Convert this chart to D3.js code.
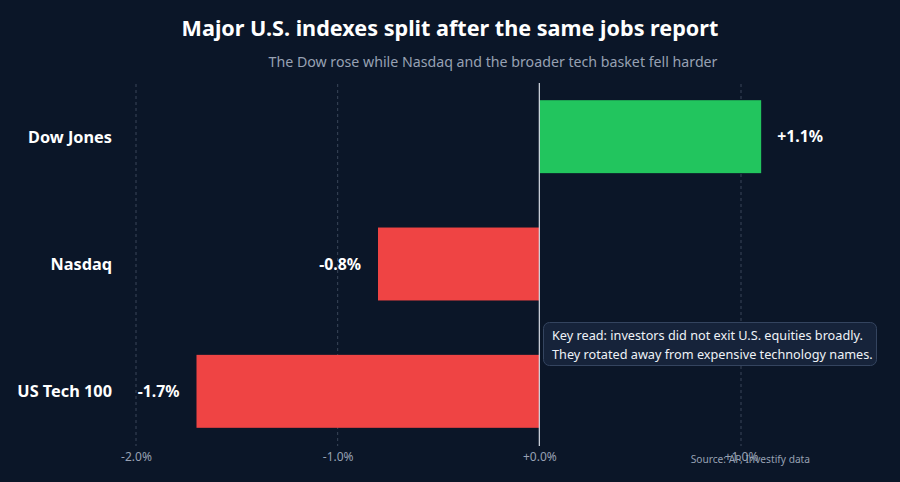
<!DOCTYPE html>
<html><head><meta charset="utf-8">
<script src="https://cdn.jsdelivr.net/npm/d3@7"></script>
<style>
html,body{margin:0;padding:0;background:#0b1628;}
svg{display:block;font-family:"Noto Sans","Open Sans",sans-serif;}
</style></head>
<body><svg id="c" width="900" height="482"></svg>
<script>
const categories = ["Dow Jones", "Nasdaq", "US Tech 100"];
const changes = [1.1, -0.8, -1.7];
const tickValues = [-2, -1, 0, 1];
const tickLabels = ["-2.0%", "-1.0%", "+0.0%", "+1.0%"];
const title = "Major U.S. indexes split after the same jobs report";
const subtitle = "The Dow rose while Nasdaq and the broader tech basket fell harder";
const noteLines = ["Key read: investors did not exit U.S. equities broadly.", "They rotated away from expensive technology names."];
const source = "Source: AP, Investify data";

const svg = d3.select("#c");
svg.append("rect").attr("width",900).attr("height",482).attr("fill","#0b1628");

const x = d3.scaleLinear().domain([-2, 1]).range([136, 741]);
const y = d3.scaleBand().domain(categories).range([73, 455]).paddingInner(0.427).paddingOuter(0.2135);

// title
svg.append("text").attr("x",450).attr("y",36).attr("text-anchor","middle")
  .attr("fill","#ffffff").attr("font-size",21.6).attr("font-weight",700).text(title);
svg.append("text").attr("x",493).attr("y",67).attr("text-anchor","middle")
  .attr("fill","#97a1b3").attr("font-size",14.2).text(subtitle);

// grid
const gridVals = tickValues.filter(v => v !== 0);
svg.append("g").selectAll("line").data(gridVals).join("line")
  .attr("x1",d=>x(d)).attr("x2",d=>x(d)).attr("y1",84).attr("y2",446)
  .attr("stroke","#3a4558").attr("stroke-width",1).attr("stroke-dasharray","3,3");

// bars
const data = categories.map((c,i)=>({c, v:changes[i]}));
svg.append("g").selectAll("rect").data(data).join("rect")
  .attr("x",d=>x(Math.min(0,d.v))).attr("y",d=>y(d.c))
  .attr("width",d=>Math.abs(x(d.v)-x(0))).attr("height",y.bandwidth())
  .attr("fill",d=>d.v>=0?"#22c55e":"#ef4444");

// zero line
svg.append("line").attr("x1",x(0)).attr("x2",x(0)).attr("y1",83).attr("y2",446)
  .attr("stroke","#d6dbe3").attr("stroke-width",1.2);

// value labels
svg.append("g").selectAll("text").data(data).join("text")
  .attr("x",d=>d.v>=0?x(d.v)+16:x(d.v)-17)
  .attr("y",d=>y(d.c)+y.bandwidth()/2+5.5)
  .attr("text-anchor",d=>d.v>=0?"start":"end")
  .attr("fill","#ffffff").attr("font-size",15.8).attr("font-weight",700)
  .text(d=>(d.v>=0?"+":"")+d.v.toFixed(1)+"%");

// category labels
svg.append("g").selectAll("text").data(categories).join("text")
  .attr("x",112).attr("y",d=>y(d)+y.bandwidth()/2+6)
  .attr("text-anchor","end").attr("fill","#ffffff").attr("font-size",16.3).attr("font-weight",700)
  .text(d=>d);

// x axis
const xAxis = d3.axisBottom(x).tickValues(tickValues).tickSize(0).tickFormat((d,i)=>tickLabels[i]);
const gx = svg.append("g").attr("transform","translate(0,447)").call(xAxis);
gx.select(".domain").remove();
gx.selectAll("text").attr("fill","#97a1b3").attr("font-size",12)
  .attr("font-family","'Noto Sans','Open Sans',sans-serif").attr("dy","0.9em");

// source
svg.append("text").attr("x",810).attr("y",463).attr("text-anchor","end")
  .attr("fill","#97a1b3").attr("font-size",10.2).text(source);

// annotation
svg.append("rect").attr("x",543.5).attr("y",322.5).attr("width",333).attr("height",43).attr("rx",6)
  .attr("fill","#16233a").attr("stroke","#34445f").attr("stroke-width",1);
svg.append("g").selectAll("text").data(noteLines).join("text")
  .attr("x",552).attr("y",(d,i)=>340+i*19).attr("fill","#eef2f7").attr("font-size",12.7).text(d=>d);
</script></body></html>
